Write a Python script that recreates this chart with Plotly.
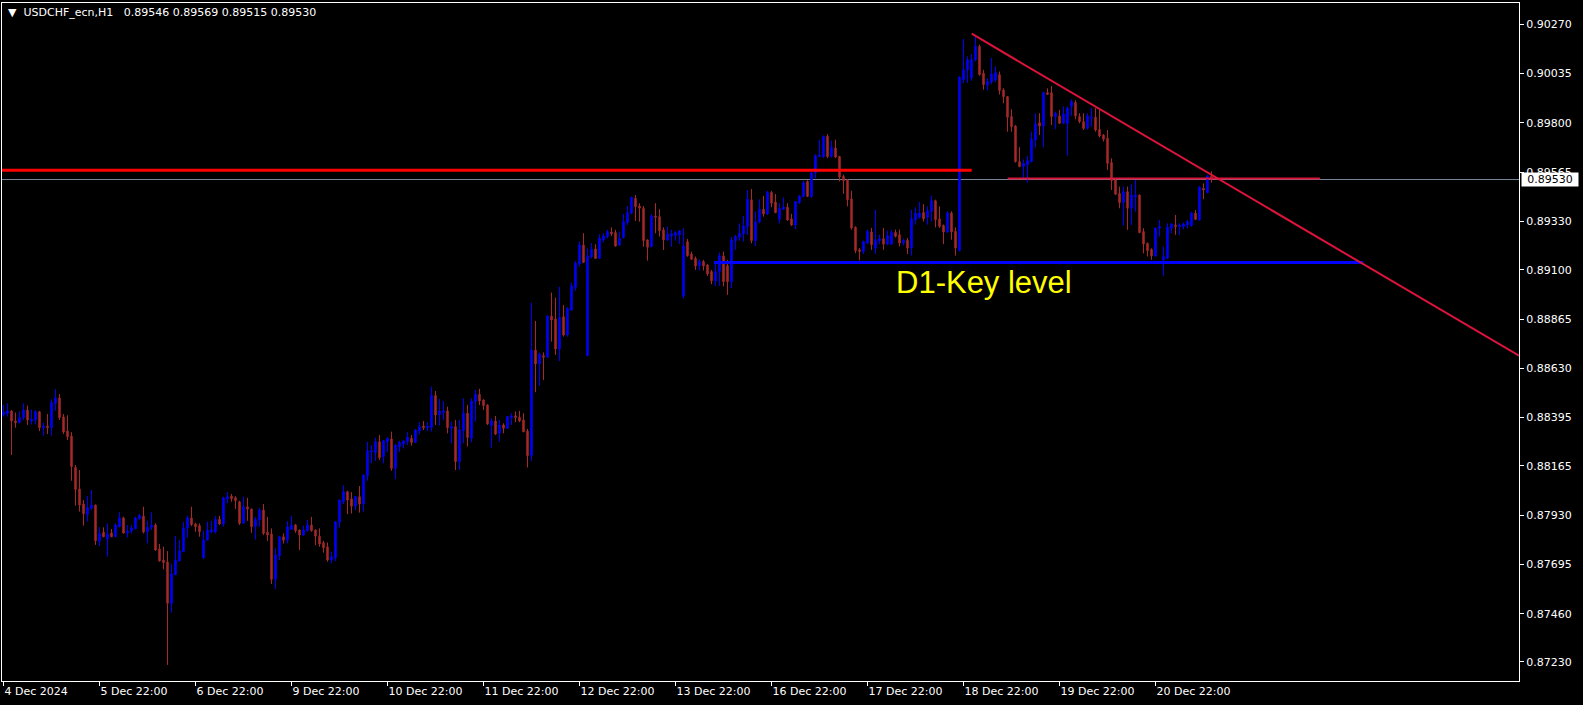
import plotly.graph_objects as go

# ---- data (prices in 1e-5 units, i.e. 88408 -> 0.88408) ----
OPEN_PTS = [
88408,88414,88427,88379,88371,88396,88431,88379,88384,88423,88347,88355,88347,88463,88489,88398,88331,88307,88158,88055,
87983,87932,87963,87978,87805,87848,87815,87845,87827,87875,87917,87845,87854,87866,87912,87926,87851,87872,87883,87769,
87716,87707,87510,87646,87712,87756,87869,87917,87888,87880,87727,87811,87851,87851,87910,87888,88008,88021,88013,87994,
87891,87970,87959,87875,87907,87954,87849,87840,87624,87737,87827,87811,87862,87883,87859,87835,87856,87883,87859,87830,
87799,87779,87716,87727,87896,87994,88042,88007,87973,88018,87983,88118,88232,88228,88280,88209,88280,88293,88153,88256,
88269,88281,88296,88277,88331,88355,88347,88347,88500,88408,88420,88427,88344,88352,88185,88333,88416,88296,88471,88506,
88479,88455,88357,88379,88320,88360,88344,88395,88404,88397,88384,88331,88214,88717,88651,88690,88683,88879,88865,88722,
88876,88789,88908,89016,89127,89218,88690,89162,89199,89154,89242,89258,89280,89277,89218,89253,89325,89369,89441,89404,
89393,89242,89210,89356,89353,89290,89242,89261,89264,89266,88975,89234,89175,89155,89118,89139,89123,89091,89047,89091,
89166,89120,89043,89239,89255,89271,89306,89433,89239,89329,89388,89366,89469,89423,89340,89388,89398,89342,89313,89420,
89449,89521,89450,89561,89640,89640,89736,89640,89680,89640,89545,89529,89438,89303,89195,89187,89227,89280,89203,89238,
89248,89222,89222,89278,89267,89227,89240,89203,89338,89350,89373,89350,89378,89429,89342,89311,89280,89370,89283,89191,
90006,90053,90014,90101,90165,90037,89979,89995,90005,90030,89957,89925,89830,89785,89615,89592,89600,89615,89719,89801,
89785,89944,89944,89830,89833,89798,89798,89878,89897,89830,89806,89774,89822,89827,89769,89742,89727,89611,89528,89464,
89420,89472,89393,89449,89456,89282,89226,89197,89166,89298,89147,89155,89298,89313,89306,89306,89313,89310,89369,89337,
89488,89468,89546]
HIGH_PTS = [
88455,88463,88431,88419,88423,88463,88452,88434,88431,88427,88371,88412,88482,88531,88508,88412,88406,88326,88169,88145,
88002,88021,88050,87980,87872,87872,87891,87864,87891,87944,87923,87883,87883,87923,87936,87970,87904,87944,87891,87793,
87780,87759,87696,87831,87812,87897,87928,87970,87894,87891,87856,87899,87902,87927,87927,88018,88040,88031,88021,87999,
88018,88013,87962,87922,87965,87983,87922,87867,87772,87832,87843,87902,87927,87888,87862,87880,87907,87922,87862,87867,
87807,87800,87756,87902,88005,88073,88046,88040,88021,88069,88124,88280,88264,88299,88312,88288,88301,88328,88269,88285,
88288,88325,88312,88341,88373,88379,88373,88543,88522,88484,88474,88447,88376,88384,88384,88487,88455,88487,88527,88532,
88482,88458,88392,88403,88384,88368,88403,88416,88424,88427,88416,88341,88943,88856,88705,88706,88882,88991,88967,89019,
88932,88921,89038,89142,89234,89274,89202,89226,89221,89269,89274,89290,89302,89290,89282,89366,89404,89449,89456,89417,
89404,89245,89364,89417,89388,89302,89306,89290,89286,89290,89298,89247,89186,89163,89150,89147,89126,89099,89139,89182,
89186,89147,89255,89266,89321,89356,89480,89485,89377,89436,89452,89476,89476,89461,89417,89445,89417,89366,89428,89456,
89523,89526,89569,89651,89720,89740,89747,89715,89720,89643,89553,89532,89477,89307,89203,89238,89291,89299,89386,89267,
89299,89286,89291,89291,89291,89248,89251,89386,89397,89423,89413,89402,89453,89434,89402,89315,89378,89378,89302,90022,
90200,90117,90128,90220,90173,90053,90014,90109,90069,90045,89965,89928,89865,89790,89684,89626,89642,89758,89846,89846,
89949,89965,89976,89854,89862,89878,89878,89912,89909,89846,89846,89846,89870,89870,89862,89747,89766,89631,89536,89496,
89496,89496,89507,89528,89459,89298,89229,89202,89301,89337,89210,89321,89321,89361,89321,89325,89337,89377,89385,89499,
89512,89552,89569]
LOW_PTS = [
88400,88400,88217,88347,88368,88384,88360,88363,88363,88331,88309,88317,88309,88428,88384,88317,88288,88094,87975,87947,
87880,87899,87955,87788,87783,87825,87732,87825,87825,87872,87842,87823,87843,87862,87910,87843,87796,87859,87759,87708,
87672,87216,87465,87644,87710,87754,87823,87878,87851,87827,87722,87808,87843,87843,87883,87875,87986,87994,87959,87883,
87888,87903,87846,87814,87875,87835,87807,87602,87578,87716,87795,87795,87859,87846,87764,87832,87851,87851,87787,87779,
87751,87708,87700,87711,87870,87983,87935,87938,87954,87942,87946,88094,88177,88188,88193,88177,88232,88142,88102,88232,
88248,88265,88261,88273,88315,88336,88331,88328,88360,88357,88384,88320,88273,88145,88145,88273,88257,88277,88376,88455,
88431,88360,88252,88312,88281,88320,88341,88360,88373,88373,88325,88157,88188,88516,88547,88574,88680,88757,88694,88665,
88781,88781,88903,88999,89115,89132,88688,89154,89151,89151,89231,89250,89261,89210,89213,89250,89313,89366,89333,89329,
89210,89143,89207,89274,89258,89194,89239,89210,89239,89223,88964,89162,89147,89099,89096,89096,89070,89031,89023,89023,
89020,88980,89012,89194,89239,89234,89266,89226,89213,89321,89353,89361,89398,89370,89321,89385,89334,89309,89293,89414,
89445,89446,89442,89537,89637,89632,89632,89635,89632,89521,89462,89402,89291,89179,89145,89175,89222,89195,89176,89222,
89195,89216,89219,89254,89211,89216,89175,89168,89315,89343,89330,89315,89330,89302,89299,89222,89275,89243,89167,89188,
89990,89990,90001,90093,90026,89958,89955,89985,89995,89935,89893,89758,89758,89611,89589,89536,89515,89612,89684,89742,
89684,89933,89790,89769,89795,89795,89644,89833,89817,89798,89766,89769,89782,89758,89731,89711,89576,89480,89456,89393,
89310,89290,89313,89377,89274,89178,89163,89147,89163,89258,89070,89152,89274,89266,89266,89293,89298,89306,89337,89334,
89436,89464,89515]
CLOSE_PTS = [
88423,88427,88379,88371,88396,88431,88384,88387,88423,88347,88355,88347,88466,88489,88395,88326,88304,88161,88053,87978,
87937,87966,87978,87808,87843,87827,87840,87827,87883,87917,87845,87854,87869,87917,87928,87850,87872,87883,87764,87712,
87704,87510,87650,87716,87759,87869,87917,87885,87875,87851,87811,87859,87859,87910,87888,88013,88018,88008,87999,87891,
87970,87959,87875,87910,87954,87843,87835,87624,87740,87827,87811,87875,87883,87856,87835,87859,87883,87856,87830,87792,
87775,87716,87732,87899,88002,88042,88002,87973,88018,87983,88121,88237,88237,88280,88204,88285,88296,88153,88264,88277,
88283,88301,88277,88336,88352,88347,88355,88500,88408,88427,88427,88347,88352,88185,88336,88416,88300,88474,88506,88474,
88452,88365,88379,88317,88360,88344,88400,88403,88395,88379,88328,88214,88717,88651,88697,88683,88879,88860,88722,88872,
88789,88916,89023,89131,89218,89135,89166,89197,89154,89250,89261,89282,89271,89213,89250,89329,89372,89445,89401,89393,
89239,89207,89356,89350,89286,89242,89269,89271,89277,89285,89213,89167,89150,89118,89139,89118,89080,89047,89091,89166,
89043,89043,89242,89258,89274,89309,89436,89239,89329,89388,89366,89469,89417,89372,89393,89398,89337,89313,89425,89452,
89515,89450,89561,89643,89645,89736,89640,89683,89637,89542,89524,89434,89299,89191,89187,89235,89283,89219,89243,89248,
89222,89262,89278,89259,89227,89240,89203,89343,89370,89370,89343,89381,89429,89338,89307,89280,89370,89280,89203,90018,
90053,90101,90101,90165,90030,89982,89998,90033,90040,89954,89925,89827,89782,89615,89592,89607,89620,89722,89795,89785,
89944,89936,89830,89846,89798,89843,89870,89901,89833,89806,89774,89833,89827,89766,89738,89722,89607,89525,89460,89420,
89472,89393,89456,89456,89277,89223,89191,89166,89298,89306,89163,89302,89318,89306,89313,89318,89329,89369,89340,89493,
89480,89547,89530]

X_TICK_BARS = [0, 24, 48, 72, 96, 120, 144, 168, 192, 216, 240, 264, 288]
X_TICK_LABELS = ["4 Dec 2024", "5 Dec 22:00", "6 Dec 22:00", "9 Dec 22:00", "10 Dec 22:00",
                 "11 Dec 22:00", "12 Dec 22:00", "13 Dec 22:00", "16 Dec 22:00", "17 Dec 22:00",
                 "18 Dec 22:00", "19 Dec 22:00", "20 Dec 22:00"]
Y_TICKS = [0.90270, 0.90035, 0.89800, 0.89565, 0.89330, 0.89100, 0.88865,
           0.88630, 0.88395, 0.88165, 0.87930, 0.87695, 0.87460, 0.87230]

BID = 0.89530
TITLE = "▼\u00a0\u00a0USDCHF_ecn,H1\u00a0\u00a0\u00a00.89546 0.89569 0.89515 0.89530"

# drawn objects: (start bar, end bar, price)
RESIST_LEVEL = (-0.375, 242.05, 0.89574)
THIN_LEVEL = (251.05, 329.1, 0.89535)
KEY_LEVEL = (177.6, 339.9, 0.89135)
TREND_START = (242.05, 0.90225)
TREND_END = (378.875, 0.88690)
KEY_TEXT = "D1-Key level"
KEY_TEXT_POS = (245.1, 0.8904)

X_RANGE = [-0.375, 378.875]
Y_RANGE = [0.871394, 0.903715]

scale = 1e5
o = [v / scale for v in OPEN_PTS]
h = [v / scale for v in HIGH_PTS]
l = [v / scale for v in LOW_PTS]
c = [v / scale for v in CLOSE_PTS]
x = list(range(len(o)))

BULL = "#0000FF"
BEAR = "#A52A2A"

fig = go.Figure()
fig.add_trace(go.Candlestick(
    x=x, open=o, high=h, low=l, close=c,
    increasing=dict(line=dict(color=BULL, width=1), fillcolor=BULL),
    decreasing=dict(line=dict(color=BEAR, width=1), fillcolor=BEAR),
    hoverinfo="skip", showlegend=False,
))

shapes = [
    dict(type="line", xref="paper", x0=0, x1=1, yref="y", y0=BID, y1=BID,
         line=dict(color="#778899", width=1), layer="below"),
    dict(type="line", xref="x", x0=RESIST_LEVEL[0], x1=RESIST_LEVEL[1], yref="y",
         y0=RESIST_LEVEL[2], y1=RESIST_LEVEL[2], line=dict(color="#FF0000", width=3)),
    dict(type="line", xref="x", x0=THIN_LEVEL[0], x1=THIN_LEVEL[1], yref="y",
         y0=THIN_LEVEL[2], y1=THIN_LEVEL[2], line=dict(color="#DC143C", width=2)),
    dict(type="line", xref="x", x0=KEY_LEVEL[0], x1=KEY_LEVEL[1], yref="y",
         y0=KEY_LEVEL[2], y1=KEY_LEVEL[2], line=dict(color="#0000FF", width=3)),
    dict(type="line", xref="x", x0=TREND_START[0], x1=TREND_END[0], yref="y",
         y0=TREND_START[1], y1=TREND_END[1], line=dict(color="#DC143C", width=2)),
]

annotations = [
    dict(xref="paper", yref="paper", x=0, y=1, xanchor="left", yanchor="top",
         xshift=4, yshift=-1, text=TITLE, showarrow=False,
         font=dict(family="DejaVu Sans", size=11, color="white")),
    dict(xref="paper", yref="y", x=1, y=BID, xanchor="left", yanchor="middle",
         xshift=2, text=f"{BID:.5f}", showarrow=False, bgcolor="white",
         width=54, height=11, borderpad=1, align="center",
         font=dict(family="DejaVu Sans", size=11, color="black")),
    dict(xref="x", yref="y", x=KEY_TEXT_POS[0], y=KEY_TEXT_POS[1], text=KEY_TEXT,
         showarrow=False, xanchor="center", yanchor="middle",
         font=dict(family="Liberation Sans, Arial", size=31, color="#FFFF00")),
]

fig.update_layout(
    width=1583, height=705,
    margin=dict(l=2, r=64, t=3, b=24),
    paper_bgcolor="black", plot_bgcolor="black",
    font=dict(family="DejaVu Sans", size=11, color="white"),
    showlegend=False, hovermode=False, boxgap=0.5,
    shapes=shapes, annotations=annotations,
    xaxis=dict(
        range=X_RANGE, tickmode="array", tickvals=X_TICK_BARS, ticktext=X_TICK_LABELS,
        ticks="outside", ticklen=4, tickcolor="white", ticklabelposition="outside right",
        showgrid=False, zeroline=False, showline=True, linecolor="white", linewidth=1,
        mirror=True, rangeslider=dict(visible=False), fixedrange=True,
        tickfont=dict(family="DejaVu Sans", size=11, color="white"),
    ),
    yaxis=dict(
        range=Y_RANGE, side="right", tickmode="array", tickvals=Y_TICKS,
        ticktext=[f"{v:.5f}" for v in Y_TICKS],
        ticks="outside", ticklen=4, tickcolor="white",
        showgrid=False, zeroline=False, showline=True, linecolor="white", linewidth=1,
        mirror=True, fixedrange=True,
        tickfont=dict(family="DejaVu Sans", size=11, color="white"),
    ),
)

fig.write_html("out.html", post_script="document.body.style.margin='0px';",
               config={"displayModeBar": False})
